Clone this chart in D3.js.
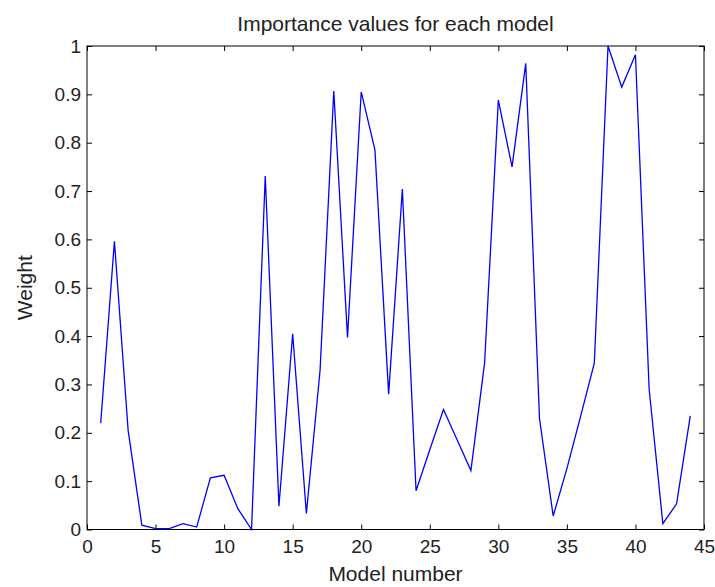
<!DOCTYPE html>
<html>
<head>
<meta charset="utf-8">
<script src="https://cdn.jsdelivr.net/npm/d3@7"></script>
<style>
  body { margin: 0; background: #fff; }
  svg { display: block; font-family: "Liberation Sans", Arial, sans-serif; }
  .axis text { font-size: 19px; fill: #222; }
  .axis line { stroke: #000; }
  .label { font-size: 21px; fill: #222; }
</style>
</head>
<body>
<script>
const width = 715, height = 587
const margin = { top: 46, right: 11, bottom: 57.5, left: 87 }

// model index on the x axis
const modelNumbers = [1, 2, 3, 4, 5, 6, 7, 8, 9, 10, 11, 12, 13, 14, 15, 16, 17, 18, 19, 20, 21, 22,
    23, 24, 25, 26, 27, 28, 29, 30, 31, 32, 33, 34, 35, 36, 37, 38, 39, 40, 41, 42, 43, 44]

// importance weight of each model
const weights = [0.22, 0.596, 0.205, 0.009, 0.002, 0.002, 0.012, 0.005, 0.107, 0.112, 0.043,
    0.0, 0.731, 0.048, 0.405, 0.033, 0.33, 0.907, 0.397, 0.905, 0.785, 0.28, 0.704, 0.08,
    0.165, 0.248, 0.185, 0.122, 0.345, 0.888, 0.75, 0.964, 0.23, 0.028, 0.126, 0.234, 0.344,
    1.0, 0.915, 0.982, 0.29, 0.012, 0.053, 0.235]

const xTicks = [0, 5, 10, 15, 20, 25, 30, 35, 40, 45]
const yTicks = [0, 0.1, 0.2, 0.3, 0.4, 0.5, 0.6, 0.7, 0.8, 0.9, 1]

const svg = d3.select("body")
    .append("svg")
    .attr("width", width)
    .attr("height", height)

const x = d3.scaleLinear().domain([0, 45]).range([margin.left, width - margin.right])
const y = d3.scaleLinear().domain([0, 1]).range([height - margin.bottom, margin.top])

const yFmt = d => d === 0 ? "0" : d === 1 ? "1" : d3.format(".1f")(d)

// bottom axis with labels, ticks pointing in
svg.append("g")
    .attr("class", "axis")
    .attr("transform", `translate(0,${y(0)})`)
    .call(d3.axisBottom(x).tickValues(xTicks).tickSizeInner(-5).tickSizeOuter(0).tickPadding(10.5))
    .call(g => g.select(".domain").remove())

svg.append("g")
    .attr("class", "axis")
    .attr("transform", `translate(${x(0)},0)`)
    .call(d3.axisLeft(y).tickValues(yTicks).tickFormat(yFmt).tickSizeInner(-5).tickSizeOuter(0).tickPadding(6))
    .call(g => g.select(".domain").remove())

// mirrored ticks on top and right
svg.append("g")
    .attr("class", "axis")
    .attr("transform", `translate(0,${y(1)})`)
    .call(d3.axisTop(x).tickValues(xTicks).tickFormat("").tickSizeInner(-5).tickSizeOuter(0))
    .call(g => g.select(".domain").remove())

svg.append("g")
    .attr("class", "axis")
    .attr("transform", `translate(${x(45)},0)`)
    .call(d3.axisRight(y).tickValues(yTicks).tickFormat("").tickSizeInner(-5).tickSizeOuter(0))
    .call(g => g.select(".domain").remove())

// box
svg.append("rect")
    .attr("x", x(0))
    .attr("y", y(1))
    .attr("width", x(45) - x(0))
    .attr("height", y(0) - y(1))
    .attr("fill", "none")
    .attr("stroke", "#000")

const line = d3.line()
    .x((d, i) => x(modelNumbers[i]))
    .y(d => y(d))

svg.append("path")
    .datum(weights)
    .attr("fill", "none")
    .attr("stroke", "#0000ff")
    .attr("stroke-width", 1.3)
    .attr("d", line)

svg.append("text")
    .attr("class", "label")
    .attr("x", (x(0) + x(45)) / 2)
    .attr("y", 31)
    .attr("text-anchor", "middle")
    .text("Importance values for each model")

svg.append("text")
    .attr("class", "label")
    .attr("x", (x(0) + x(45)) / 2)
    .attr("y", 581)
    .attr("text-anchor", "middle")
    .text("Model number")

svg.append("text")
    .attr("class", "label")
    .attr("transform", `translate(32,${(y(0) + y(1)) / 2}) rotate(-90)`)
    .attr("text-anchor", "middle")
    .text("Weight")
</script>
</body>
</html>
